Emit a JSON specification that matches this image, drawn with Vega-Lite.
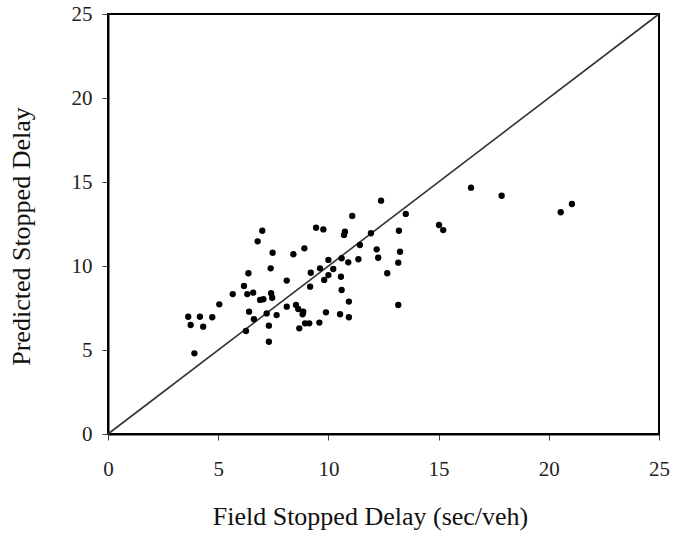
{
  "$schema": "https://vega.github.io/schema/vega-lite/v6.json",
  "width": 551,
  "height": 420,
  "autosize": "none",
  "padding": {"left": 108, "top": 14, "right": 14, "bottom": 99},
  "background": "white",
  "config": {
    "font": "Liberation Serif",
    "view": {"stroke": "black", "strokeWidth": 2},
    "axis": {
      "grid": false,
      "labelFlush": false,
      "labelOverlap": false,
      "domainColor": "black",
      "domainWidth": 2,
      "tickColor": "#444444",
      "tickSize": 6,
      "labelColor": "#222222",
      "labelFont": "Liberation Serif",
      "labelFontSize": 21,
      "titleFont": "Liberation Serif",
      "titleFontSize": 26,
      "titleFontWeight": "normal",
      "titleColor": "#111111"
    }
  },
  "datasets": {
    "pts": [
      {"field": 3.64, "pred": 6.98}, {"field": 4.17, "pred": 6.98}, {"field": 4.73, "pred": 6.95},
      {"field": 3.75, "pred": 6.49}, {"field": 4.32, "pred": 6.39}, {"field": 3.92, "pred": 4.80},
      {"field": 5.05, "pred": 7.72}, {"field": 5.66, "pred": 8.33}, {"field": 6.17, "pred": 8.81},
      {"field": 6.37, "pred": 9.57}, {"field": 6.32, "pred": 8.33}, {"field": 6.59, "pred": 8.41},
      {"field": 6.79, "pred": 11.47}, {"field": 7.00, "pred": 12.10}, {"field": 7.47, "pred": 10.79},
      {"field": 7.38, "pred": 9.86}, {"field": 6.90, "pred": 7.98}, {"field": 7.05, "pred": 8.02},
      {"field": 7.40, "pred": 8.38}, {"field": 7.45, "pred": 8.11}, {"field": 6.40, "pred": 7.28},
      {"field": 7.20, "pred": 7.18}, {"field": 7.65, "pred": 7.08}, {"field": 6.62, "pred": 6.83},
      {"field": 7.30, "pred": 6.45}, {"field": 6.26, "pred": 6.13}, {"field": 7.30, "pred": 5.49},
      {"field": 8.11, "pred": 9.13}, {"field": 8.41, "pred": 10.70}, {"field": 8.91, "pred": 11.05},
      {"field": 9.44, "pred": 12.28}, {"field": 9.20, "pred": 9.60}, {"field": 9.62, "pred": 9.86},
      {"field": 9.17, "pred": 8.77}, {"field": 8.11, "pred": 7.58}, {"field": 8.53, "pred": 7.68},
      {"field": 8.63, "pred": 7.44}, {"field": 8.86, "pred": 7.28}, {"field": 8.83, "pred": 7.13},
      {"field": 8.94, "pred": 6.59}, {"field": 9.13, "pred": 6.59}, {"field": 8.68, "pred": 6.29},
      {"field": 9.59, "pred": 6.63}, {"field": 12.39, "pred": 13.89}, {"field": 11.08, "pred": 12.98},
      {"field": 13.51, "pred": 13.10}, {"field": 9.77, "pred": 12.18}, {"field": 10.75, "pred": 12.04},
      {"field": 10.71, "pred": 11.85}, {"field": 11.93, "pred": 11.95}, {"field": 13.20, "pred": 12.10},
      {"field": 11.43, "pred": 11.25}, {"field": 12.19, "pred": 10.99}, {"field": 12.26, "pred": 10.49},
      {"field": 13.25, "pred": 10.85}, {"field": 13.17, "pred": 10.20}, {"field": 11.36, "pred": 10.40},
      {"field": 10.00, "pred": 10.36}, {"field": 10.60, "pred": 10.46}, {"field": 10.90, "pred": 10.22},
      {"field": 10.22, "pred": 9.82}, {"field": 10.00, "pred": 9.46}, {"field": 9.81, "pred": 9.17},
      {"field": 10.57, "pred": 9.36}, {"field": 12.67, "pred": 9.57}, {"field": 10.60, "pred": 8.57},
      {"field": 10.93, "pred": 7.88}, {"field": 13.17, "pred": 7.68}, {"field": 9.89, "pred": 7.24},
      {"field": 10.53, "pred": 7.13}, {"field": 10.93, "pred": 6.95}, {"field": 16.47, "pred": 14.66},
      {"field": 17.86, "pred": 14.18}, {"field": 20.54, "pred": 13.20}, {"field": 21.05, "pred": 13.69},
      {"field": 15.02, "pred": 12.44}, {"field": 15.21, "pred": 12.14}
    ],
    "diag": [{"x0": 0, "y0": 0, "x1": 25, "y1": 25}]
  },
  "layer": [
    {
      "data": {"name": "diag"},
      "mark": {"type": "rule", "color": "#333333", "strokeWidth": 1.6},
      "encoding": {
        "x": {"field": "x0", "type": "quantitative", "scale": {"domain": [0, 25], "nice": false}, "axis": {"values": [0, 5, 10, 15, 20, 25], "title": "Field Stopped Delay (sec/veh)", "labelPadding": 18, "titleX": 262, "titleY": 90, "titleBaseline": "alphabetic", "titleAnchor": "middle", "titleAlign": "center"}},
        "y": {"field": "y0", "type": "quantitative", "scale": {"domain": [0, 25], "nice": false}, "axis": {"values": [0, 5, 10, 15, 20, 25], "title": "Predicted Stopped Delay", "labelPadding": 10, "titleX": -79, "titleY": 222, "titleBaseline": "alphabetic", "titleAnchor": "middle", "titleAlign": "center"}},
        "x2": {"field": "x1"},
        "y2": {"field": "y1"}
      }
    },
    {
      "data": {"name": "pts"},
      "mark": {"type": "circle", "color": "black", "opacity": 1, "size": 40},
      "encoding": {
        "x": {"field": "field", "type": "quantitative"},
        "y": {"field": "pred", "type": "quantitative"}
      }
    }
  ]
}
